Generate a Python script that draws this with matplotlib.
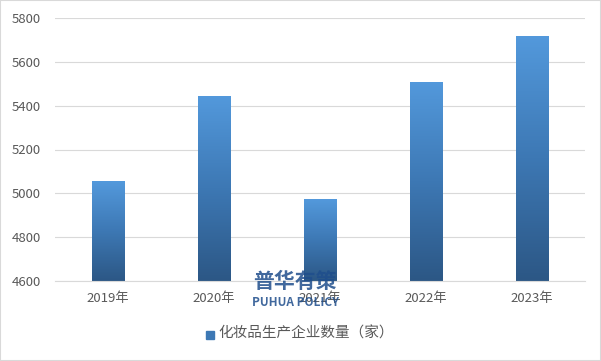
import numpy as np
import matplotlib.pyplot as plt
from matplotlib.colors import LinearSegmentedColormap
from matplotlib.patches import Rectangle

plt.rcParams['font.family'] = ['Noto Sans CJK SC', 'DejaVu Sans']

years = ["2019年", "2020年", "2021年", "2022年", "2023年"]
counts = [5055, 5445, 4974, 5509, 5719]
series_name = "化妆品生产企业数量（家）"

fig = plt.figure(figsize=(6.01, 3.61), dpi=100)
ax = fig.add_axes([55 / 601, 1 - 281 / 361, 530 / 601, 263 / 361])

cmap = LinearSegmentedColormap.from_list("bar", ["#2C5785", "#3D78B4", "#5399DC"])
grad = np.linspace(0, 1, 256).reshape(-1, 1)
ymin, ymax = 4600, 5800
width = 0.31
x = np.arange(len(years))

bars = ax.bar(x, np.array(counts) - ymin, bottom=ymin, width=width, color="none", zorder=2)
for b in bars:
    x0, y0 = b.get_x(), b.get_y()
    w, h = b.get_width(), b.get_height()
    im = ax.imshow(grad, cmap=cmap, aspect="auto", origin="lower",
                   extent=(x0, x0 + w, y0, y0 + h), zorder=2)
    im.set_clip_path(Rectangle((x0, y0), w, h, transform=ax.transData))

ax.set_xlim(-0.5, len(years) - 0.5)
ax.set_ylim(ymin, ymax)
ax.set_yticks(range(4600, 5801, 200))
ax.set_xticks(x, years)
ax.grid(axis="y", color="#D9D9D9", linewidth=0.8, zorder=0)
ax.set_axisbelow(True)
for s in ["top", "right", "left"]:
    ax.spines[s].set_visible(False)
ax.spines["bottom"].set_color("#D9D9D9")
ax.tick_params(axis="both", length=0, labelsize=9.5, colors="#595959", pad=8)
ax.tick_params(axis="y", pad=10)

# legend
fig.patches.append(Rectangle((206 / 601, 1 - 339 / 361), 8 / 601, 8 / 361,
                             transform=fig.transFigure, color="#3D78B4"))
fig.text(218 / 601, 1 - 334 / 361, series_name, fontsize=10.5, color="#595959", va="center")

# watermark
fig.text(295 / 601, 1 - 281 / 361, "普华有策", fontsize=15, fontweight="bold",
         color="#1F4E8C", alpha=0.85, ha="center", va="center")
fig.text(295 / 601, 1 - 303 / 361, "PUHUA POLICY", fontsize=8.5, fontweight="bold",
         color="#1F4E8C", alpha=0.85, ha="center", va="center")

fig.patches.append(Rectangle((0, 0), 1, 1, transform=fig.transFigure, fill=False,
                             edgecolor="#D9D9D9", linewidth=1.5))

fig.savefig("out.png", dpi=100)
